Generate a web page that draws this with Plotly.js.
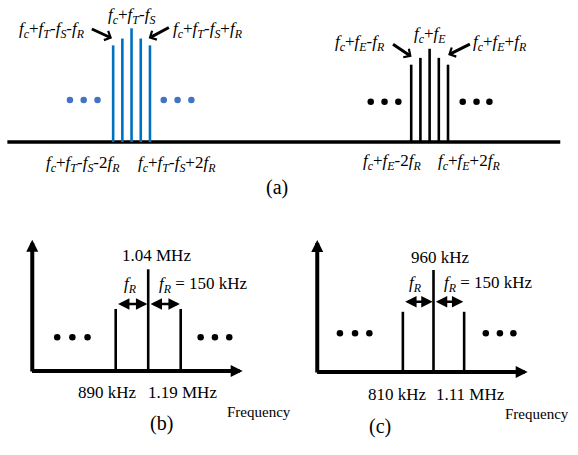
<!DOCTYPE html>
<html><head><meta charset="utf-8">
<script src="https://cdn.plot.ly/plotly-3.0.1.min.js"></script>
<style>html,body{margin:0;padding:0;background:#fff}#chart{width:578px;height:455px}</style>
</head><body><div id="chart"></div>
<script>
// ---------------- data ----------------
// panel (a): two sideband groups, orders -2..2 (arbitrary frequency units, f_R = 1)
const sidebandOrders = [-2, -1, 0, 1, 2];
const blueHeights = [0.85, 0.91, 1.0, 0.91, 0.85];
const blackHeights = [0.68, 0.74, 0.82, 0.74, 0.68];
const groupCenters = [14.3, 46.7];
const blueDotOffsets = [-6.7, -5.2, -3.7, 3.5, 5.0, 6.5];
const blackDotOffsets = [-6.4, -4.9, -3.4, 3.6, 5.1, 6.5];

// panel (b)
const freqsB = [890, 1040, 1190];          // kHz
const heightsB = [0.61, 1.0, 0.61];
const labelsB = ['890 kHz', '1.04 MHz', '1.19 MHz'];
const dotsB = [620, 690, 760, 1282, 1348, 1414];

// panel (c)
const freqsC = [810, 960, 1110];           // kHz
const heightsC = [0.59, 1.0, 0.59];
const labelsC = ['810 kHz', '960 kHz', '1.11 MHz'];
const dotsC = [502, 576, 646, 1216, 1285, 1351];

const fR_kHz = 150;

// ---------------- helpers ----------------
function stems(xs, hs) {
  const x = [], y = [];
  xs.forEach((v, i) => { x.push(v, v, null); y.push(0, hs[i], null); });
  return {x, y};
}
const F = s => `<i>f</i><sub><i>${s}</i></sub>`;
const FONT = '"Liberation Serif", serif';
const BLUE = '#0070C0', DOTBLUE = '#4472C4';

const traces = [];
const ann = [];

// ---- panel (a) ----
const baseA = {x: [0.8, 60.9], y: [0, 0]};
traces.push({type:'scatter', mode:'lines', x: baseA.x, y: baseA.y, xaxis:'x', yaxis:'y',
  line:{color:'#000', width:3.5}, hoverinfo:'skip'});
const blueX = sidebandOrders.map(k => groupCenters[0] + k);
const blackX = sidebandOrders.map(k => groupCenters[1] + k);
const sb = stems(blueX, blueHeights);
traces.push({type:'scatter', mode:'lines', x: sb.x, y: sb.y, xaxis:'x', yaxis:'y',
  line:{color:BLUE, width:2.6}, hoverinfo:'skip'});
const sk = stems(blackX, blackHeights);
traces.push({type:'scatter', mode:'lines', x: sk.x, y: sk.y, xaxis:'x', yaxis:'y',
  line:{color:'#000', width:2.6}, hoverinfo:'skip'});
traces.push({type:'scatter', mode:'markers', x: blueDotOffsets.map(d => groupCenters[0] + d),
  y: blueDotOffsets.map(() => 0.37), xaxis:'x', yaxis:'y',
  marker:{color:DOTBLUE, size:6.5}, hoverinfo:'skip'});
traces.push({type:'scatter', mode:'markers', x: blackDotOffsets.map(d => groupCenters[1] + d),
  y: blackDotOffsets.map(() => 0.354), xaxis:'x', yaxis:'y',
  marker:{color:'#000', size:6.5}, hoverinfo:'skip'});

const base1 = F('c') + '+' + F('T') + '-' + F('S');
const base2 = F('c') + '+' + F('E');
const labA = [
  [0, base1 + '-' + F('R'), -8.7, 0.985],
  [0, base1, 0, 1.11],
  [0, base1 + '+' + F('R'), 8.3, 0.985],
  [0, base1 + '-2' + F('R'), -5.24, -0.19],
  [0, base1 + '+2' + F('R'), 4.98, -0.19],
  [1, base2 + '-' + F('R'), -7.53, 0.871],
  [1, base2, 0, 0.941],
  [1, base2 + '+' + F('R'), 7.63, 0.871],
  [1, base2 + '-2' + F('R'), -4.05, -0.18],
  [1, base2 + '+2' + F('R'), 4.26, -0.18],
];
labA.forEach(([g, t, dx, y]) => ann.push({xref:'x', yref:'y', x: groupCenters[g] + dx, y: y,
  text: t, showarrow:false, font:{family:FONT, size:17, color:'#000'}}));
const arrA = [
  [0, -4.48, 1.0, -2.12, 0.912],
  [0, 4.22, 1.014, 1.86, 0.912],
  [1, -4.14, 0.868, -1.96, 0.75],
  [1, 4.54, 0.868, 2.01, 0.765],
];
arrA.forEach(([g, tx, ty, hx, hy]) => ann.push({xref:'x', yref:'y', axref:'x', ayref:'y',
  x: groupCenters[g] + hx, y: hy, ax: groupCenters[g] + tx, ay: ty, text:'', showarrow:true,
  arrowhead:4, arrowwidth:3, arrowsize:0.65, arrowcolor:'#000', standoff:0}));

// ---- panels (b) and (c) ----
function panel(xa, ya, freqs, heights, labels, dots, dotY, axisOrigin, axisEnd, axisTop, arrowY, topLabY, fLabY, botLabY, freqLabX, shifts) {
  const xr = xa.replace('axis',''), yr = ya.replace('axis','');
  const s = stems(freqs, heights);
  traces.push({type:'scatter', mode:'lines', x: s.x, y: s.y, xaxis:xr, yaxis:yr,
    line:{color:'#000', width:2.6}, hoverinfo:'skip'});
  traces.push({type:'scatter', mode:'markers', x: dots, y: dots.map(() => dotY), xaxis:xr, yaxis:yr,
    marker:{color:'#000', size:6.5}, hoverinfo:'skip'});
  // axes with arrow heads
  ann.push({xref:xr, yref:yr, axref:xr, ayref:yr, x: axisEnd, y: 0, ax: axisOrigin - 8, ay: 0, text:'',
    showarrow:true, arrowhead:2, arrowwidth:4, arrowsize:0.6, arrowcolor:'#000', standoff:0});
  ann.push({xref:xr, yref:yr, axref:xr, ayref:yr, x: axisOrigin, y: axisTop, ax: axisOrigin, ay: -0.02, text:'',
    showarrow:true, arrowhead:2, arrowwidth:4, arrowsize:0.6, arrowcolor:'#000', standoff:0});
  // double arrows f_R
  for (let i = 0; i < freqs.length - 1; i++) {
    ann.push({xref:xr, yref:yr, axref:xr, ayref:yr, x: freqs[i+1] - 4, y: arrowY, ax: freqs[i] + 4, ay: arrowY,
      text:'', showarrow:true, arrowhead:2, startarrowhead:2, arrowside:'end+start',
      arrowwidth:2.4, arrowsize:0.95, startarrowsize:0.95, arrowcolor:'#000', standoff:0, startstandoff:0});
  }
  const fnt = {family:FONT, size:17, color:'#000'};
  ann.push({xref:xr, yref:yr, x: freqs[1] + shifts[0], y: topLabY, text: labels[1], showarrow:false, font:fnt});
  ann.push({xref:xr, yref:yr, x: freqs[0] + shifts[1], y: fLabY, text: F('R'), showarrow:false, font:fnt});
  ann.push({xref:xr, yref:yr, x: freqs[1] + shifts[2], y: fLabY, xanchor:'left',
    text: F('R') + ' = ' + fR_kHz + ' kHz', showarrow:false, font:fnt});
  ann.push({xref:xr, yref:yr, x: freqs[0] + shifts[3], y: botLabY, text: labels[0], showarrow:false, font:fnt});
  ann.push({xref:xr, yref:yr, x: freqs[2] + shifts[4], y: botLabY, text: labels[2], showarrow:false, font:fnt});
  ann.push({xref:xr, yref:yr, x: freqLabX, y: botLabY - 0.19, text: 'Frequency', showarrow:false,
    font:{family:FONT, size:15, color:'#000'}});
}
panel('xaxis2', 'yaxis2', freqsB, heightsB, labelsB, dotsB, 0.331, 505, 1476, 1.29, 0.659,
  1.134, 0.85, -0.216, 1551, [40, 70, 39, -38, 8]);
panel('xaxis3', 'yaxis3', freqsC, heightsC, labelsC, dotsC, 0.379, 391, 1421, 1.294, 0.689,
  1.121, 0.86, -0.225, 1467, [36, 63, 40, -26, 29]);

// captions
[['(a)', 0.479, 0.587], ['(b)', 0.256, 0.040], ['(c)', 0.680, 0.033]].forEach(([t, x, y]) =>
  ann.push({xref:'paper', yref:'paper', x, y, text:t, showarrow:false,
    font:{family:FONT, size:20, color:'#000'}}));

const hid = {visible:false, fixedrange:true, showgrid:false, zeroline:false};
const layout = {
  width:578, height:455, margin:{l:0, r:0, t:0, b:0},
  font:{family:FONT, color:'#000'},
  paper_bgcolor:'#fff', plot_bgcolor:'rgba(0,0,0,0)', showlegend:false,
  xaxis: Object.assign({}, hid, {domain:[0,1], range:[0, 62.83]}),
  yaxis: Object.assign({}, hid, {domain:[0,1], range:[-2.753, 1.249]}),
  xaxis2: Object.assign({}, hid, {overlaying:'x', range:[356.1, 3023.4]}),
  yaxis2: Object.assign({}, hid, {overlaying:'y', range:[-0.826, 3.648]}),
  xaxis3: Object.assign({}, hid, {overlaying:'x', range:[-1161.9, 1667.3]}),
  yaxis3: Object.assign({}, hid, {overlaying:'y', range:[-0.814, 3.647]}),
  annotations: ann
};
Plotly.newPlot('chart', traces, layout, {displayModeBar:false, staticPlot:true});
</script></body></html>
